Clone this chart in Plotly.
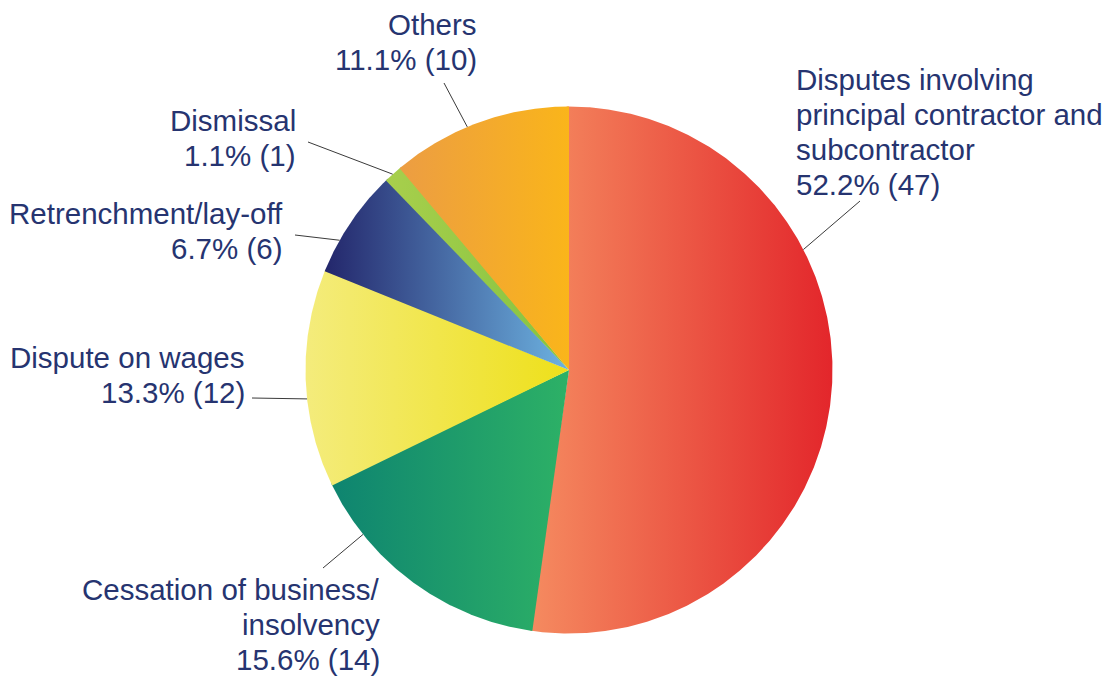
import numpy as np
import plotly.graph_objects as go

# ---- data ----
categories = [
    "Disputes involving principal contractor and subcontractor",
    "Cessation of business/insolvency",
    "Dispute on wages",
    "Retrenchment/lay-off",
    "Dismissal",
    "Others",
]
counts = [47, 14, 12, 6, 1, 10]
percent_labels = ["52.2%", "15.6%", "13.3%", "6.7%", "1.1%", "11.1%"]
name_lines = [
    ["Disputes involving", "principal contractor and", "subcontractor"],
    ["Cessation of business/", "insolvency"],
    ["Dispute on wages"],
    ["Retrenchment/lay-off"],
    ["Dismissal"],
    ["Others"],
]

# ---- styling ----
gradients = [
    ("#F58B60", "#E3262B"),
    ("#0E8470", "#2DB166"),
    ("#F4EC7C", "#EEE01A"),
    ("#23266B", "#6DB3E1"),
    ("#A8CF4C", "#84C341"),
    ("#EC9D43", "#FAB51A"),
]
TEXT_COLOR = "#263470"
FONT = "Liberation Sans, Arial, sans-serif"
FONT_SIZE = 29.5
LINE_GAP = 35

W, H = 1110, 677
CX, CY, R = 569.0, 370.0, 263.5

# label placement: (x anchor, side, first baseline, leader attach angle, leader outer end)
label_layout = [
    dict(x=796, anchor="left", y0=89.5, attach=62.8, end=(860, 201)),
    dict(x=379.5, anchor="right", y0=600, attach=231.4, end=(323, 568)),
    dict(x=245, anchor="right", y0=368, attach=263.7, end=(252, 398)),
    dict(x=283, anchor="right", y0=223.5, attach=299.5, end=(295, 235)),
    dict(x=295.5, anchor="right", y0=131, attach=318.0, end=(308, 142)),
    dict(x=477, anchor="right", y0=34.5, attach=337.3, end=(444, 83)),
]


def polar(deg, r=R):
    t = np.radians(deg)
    return CX + r * np.sin(t), CY - r * np.cos(t)


fig = go.Figure()

total = sum(counts)
start = 0.0
overlap = 0.5  # small overlap hides antialiasing seams between wedges
n = len(counts)
for i, (cnt, (c0, c1)) in enumerate(zip(counts, gradients)):
    span = 360.0 * cnt / total
    a0 = start - (overlap if i == 0 else 0.0)
    a1 = start + span + (overlap if i < n - 1 else 0.0)
    angs = np.linspace(a0, a1, max(8, int((a1 - a0) * 3)))
    px, py = polar(angs)
    xs = np.concatenate([[CX], px, [CX]])
    ys = np.concatenate([[CY], py, [CY]])
    fig.add_trace(go.Scatter(
        x=xs, y=ys, mode="lines", fill="toself",
        fillgradient=dict(type="horizontal", colorscale=[[0, c0], [1, c1]]),
        line=dict(width=0), hoverinfo="text",
        text=f"{categories[i]}: {percent_labels[i]} ({cnt})",
        showlegend=False,
    ))
    start += span

# leader lines and labels
for i, lay in enumerate(label_layout):
    ix, iy = polar(lay["attach"])
    ex, ey = lay["end"]
    fig.add_trace(go.Scatter(
        x=[ex, ix], y=[ey, iy], mode="lines",
        line=dict(color="#3a3a3a", width=1),
        hoverinfo="skip", showlegend=False,
    ))
    lines = name_lines[i] + [f"{percent_labels[i]} ({counts[i]})"]
    for k, txt in enumerate(lines):
        fig.add_annotation(
            x=lay["x"], y=lay["y0"] + k * LINE_GAP + 6.4,
            xref="x", yref="y", text=txt, showarrow=False,
            xanchor=lay["anchor"], yanchor="bottom",
            borderpad=0, borderwidth=0,
            font=dict(family=FONT, size=FONT_SIZE, color=TEXT_COLOR),
        )

fig.update_xaxes(range=[0, W], visible=False, fixedrange=True)
fig.update_yaxes(range=[H, 0], visible=False, fixedrange=True)
fig.update_layout(
    width=W, height=H,
    margin=dict(l=0, r=0, t=0, b=0),
    paper_bgcolor="white", plot_bgcolor="white",
)

fig.write_html("out.html")
